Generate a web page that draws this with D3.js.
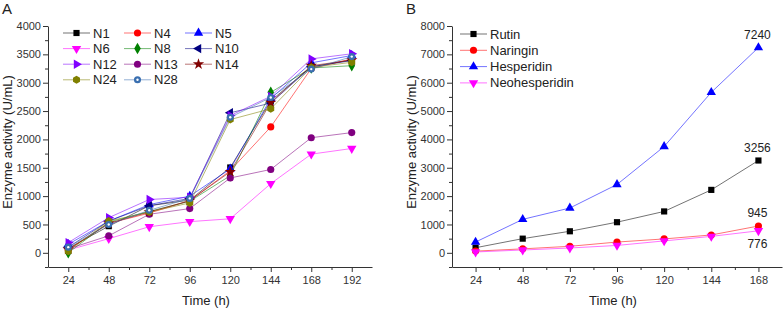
<!DOCTYPE html>
<html>
<head>
<meta charset="utf-8">
<script src="https://cdn.jsdelivr.net/npm/d3@7"></script>
<style>
  body { margin: 0; background: #fff; }
  text { font-family: "Liberation Sans", Arial, sans-serif; }
</style>
</head>
<body>
<script>
var width = 784;
var height = 310;

// panel A data
var timesA = [24, 48, 72, 96, 120, 144, 168, 192];
var namesA = ["N1", "N4", "N5", "N6", "N8", "N10", "N12", "N13", "N14", "N24", "N28"];
var valuesA = [
  [80, 470, 830, 930, 1505, 2680, 3280, 3400],   // N1
  [50, 520, 700, 920, 1450, 2220, 3250, 3420],   // N4
  [150, 560, 850, 1000, 1480, 2720, 3350, 3480], // N5
  [50, 250, 460, 550, 600, 1220, 1740, 1840],    // N6
  [0, 540, 730, 910, 1360, 2830, 3260, 3300],    // N8
  [100, 560, 830, 960, 2470, 2640, 3280, 3390],  // N10
  [180, 620, 940, 980, 2420, 2760, 3420, 3510],  // N12
  [70, 300, 680, 780, 1320, 1470, 2030, 2120],   // N13
  [60, 520, 720, 920, 1430, 2650, 3300, 3400],   // N14
  [30, 560, 720, 880, 2350, 2540, 3270, 3360],   // N24
  [100, 500, 750, 960, 2390, 2740, 3240, 3460]   // N28
];
var colorsA = ["#000000", "#ff0000", "#0000ff", "#ff00ff", "#008000", "#000080",
               "#8000ff", "#800080", "#800000", "#808000", "#3a6fb0"];
var shapesA = ["square", "circle", "up", "down", "diamond", "left",
               "right", "circle", "star", "hexagon", "dotcircle"];
var yTicksA = [0, 500, 1000, 1500, 2000, 2500, 3000, 3500, 4000];

// panel B data
var timesB = [24, 48, 72, 96, 120, 144, 168];
var namesB = ["Rutin", "Naringin", "Hesperidin", "Neohesperidin"];
var valuesB = [
  [180, 500, 760, 1080, 1460, 2220, 3256],
  [60, 140, 230, 380, 490, 630, 945],
  [380, 1180, 1580, 2410, 3750, 5660, 7240],
  [30, 100, 170, 260, 420, 580, 776]
];
var colorsB = ["#000000", "#ff0000", "#0000ff", "#ff00ff"];
var shapesB = ["square", "circle", "up", "down"];
var yTicksB = [0, 1000, 2000, 3000, 4000, 5000, 6000, 7000, 8000];
var endLabels = ["3256", "945", "7240", "776"];

var svg = d3.select("body").append("svg")
  .attr("width", width)
  .attr("height", height);

var hexagon = {
  draw: function(ctx, size) {
    var r = Math.sqrt(2 * size / (3 * Math.sqrt(3)));
    for (var i = 0; i < 6; i++) {
      var a = Math.PI / 3 * i + Math.PI / 6;
      if (i == 0) ctx.moveTo(r * Math.cos(a), r * Math.sin(a));
      else ctx.lineTo(r * Math.cos(a), r * Math.sin(a));
    }
    ctx.closePath();
  }
};

function marker(g, shape, color, x, y) {
  var type = d3.symbolCircle, rot = 0, size = 40;
  if (shape == "square") { type = d3.symbolSquare; size = 38; }
  if (shape == "up") { type = d3.symbolTriangle; size = 38; }
  if (shape == "down") { type = d3.symbolTriangle; size = 38; rot = 180; }
  if (shape == "left") { type = d3.symbolTriangle; size = 38; rot = -90; }
  if (shape == "right") { type = d3.symbolTriangle; size = 38; rot = 90; }
  if (shape == "diamond") { type = d3.symbolDiamond; size = 38; }
  if (shape == "star") { type = d3.symbolStar; size = 40; }
  if (shape == "hexagon") { type = hexagon; size = 42; }
  g.append("path")
    .attr("d", d3.symbol().type(type).size(size)())
    .attr("transform", "translate(" + x + "," + y + ") rotate(" + rot + ")")
    .attr("fill", color);
  if (shape == "dotcircle") {
    g.append("circle").attr("cx", x).attr("cy", y).attr("r", 1.2).attr("fill", "#fff");
  }
}

function panel(opt) {
  var g = svg.append("g");
  var x = d3.scaleLinear().domain(opt.xDomain).range(opt.xRange);
  var y = d3.scaleLinear().domain(opt.yDomain).range([267, 26]);

  // minor ticks
  var xMinor = d3.range(opt.xDomain[0] + 24, opt.xDomain[1], 24);
  g.append("g").attr("transform", "translate(0,267)")
    .call(d3.axisBottom(x).tickValues(xMinor).tickSize(3).tickFormat(""))
    .call(a => a.select(".domain").remove());
  var step = opt.yTicks[1] - opt.yTicks[0];
  var yMinor = d3.range(opt.yDomain[0], opt.yDomain[1], step / 2)
    .filter(v => opt.yTicks.indexOf(v) < 0);
  g.append("g").attr("transform", "translate(" + opt.xRange[0] + ",0)")
    .call(d3.axisLeft(y).tickValues(yMinor).tickSize(3).tickFormat(""))
    .call(a => a.select(".domain").remove());

  g.append("g").attr("transform", "translate(0,267)")
    .call(d3.axisBottom(x).tickValues(opt.times).tickSize(5).tickSizeOuter(0).tickPadding(4));
  g.append("g").attr("transform", "translate(" + opt.xRange[0] + ",0)")
    .call(d3.axisLeft(y).tickValues(opt.yTicks).tickFormat(d3.format("d"))
      .tickSize(5).tickSizeOuter(0).tickPadding(2));
  g.selectAll(".tick text").attr("font-size", "11px").attr("fill", "#333")
    .style("font-family", "'Liberation Sans', Arial, sans-serif");
  g.selectAll(".domain, .tick line").attr("stroke", "#333");

  g.append("text")
    .attr("x", (opt.xRange[0] + opt.xRange[1]) / 2 - 4).attr("y", 305)
    .attr("text-anchor", "middle").attr("font-size", "13px").attr("fill", "#222")
    .text("Time (h)");
  g.append("text")
    .attr("transform", "translate(" + (opt.xRange[0] - 36) + ",142) rotate(-90)")
    .attr("text-anchor", "middle").attr("font-size", "13px").attr("fill", "#222")
    .text("Enzyme activity (U/mL)");
  g.append("text")
    .attr("x", opt.xRange[0] - 46).attr("y", 14)
    .attr("font-size", "15px").attr("fill", "#222")
    .text(opt.letter);

  var line = d3.line().x((d, i) => x(opt.times[i])).y(d => y(d));
  opt.values.forEach(function(vals, s) {
    var sg = g.append("g");
    sg.append("path").datum(vals)
      .attr("d", line).attr("fill", "none")
      .attr("stroke", opt.colors[s]).attr("stroke-width", 1).attr("stroke-opacity", 0.55);
    vals.forEach(function(v, i) {
      marker(sg, opt.shapes[s], opt.colors[s], x(opt.times[i]), y(v));
    });
  });

  // legend
  opt.names.forEach(function(n, s) {
    var col = Math.floor(s / opt.legendRows);
    var row = s % opt.legendRows;
    if (opt.legendCols) { col = s % opt.legendCols; row = Math.floor(s / opt.legendCols); }
    var lx = opt.legendX + col * 61;
    var ly = opt.legendY + row * opt.legendStep;
    var lg = g.append("g");
    lg.append("line").attr("x1", lx).attr("x2", lx + 27).attr("y1", ly).attr("y2", ly)
      .attr("stroke", opt.colors[s]).attr("stroke-width", 1).attr("stroke-opacity", 0.55);
    marker(lg, opt.shapes[s], opt.colors[s], lx + 13.5, ly);
    lg.append("text").attr("x", lx + 30).attr("y", ly + 4.5)
      .attr("font-size", "13px").attr("fill", "#222").text(n);
  });
  return {x: x, y: y, g: g};
}

panel({
  letter: "A", xDomain: [12, 204], xRange: [48, 372], yDomain: [-250, 4000],
  times: timesA, values: valuesA, colors: colorsA, shapes: shapesA, names: namesA,
  yTicks: yTicksA, legendX: 63, legendY: 33, legendStep: 15.6, legendCols: 3
});

var pB = panel({
  letter: "B", xDomain: [12, 180], xRange: [452, 782], yDomain: [-500, 8000],
  times: timesB, values: valuesB, colors: colorsB, shapes: shapesB, names: namesB,
  yTicks: yTicksB, legendX: 460, legendY: 34, legendStep: 16.3, legendRows: 4
});

// end-point labels in B
var last = timesB.length - 1;
endLabels.forEach(function(t, s) {
  var below = t == "776";
  pB.g.append("text")
    .attr("x", pB.x(timesB[last]) - 1)
    .attr("y", pB.y(valuesB[s][last]) + (below ? 17 : -9))
    .attr("text-anchor", "middle").attr("font-size", "12px").attr("fill", "#222")
    .text(t);
});
</script>
</body>
</html>
